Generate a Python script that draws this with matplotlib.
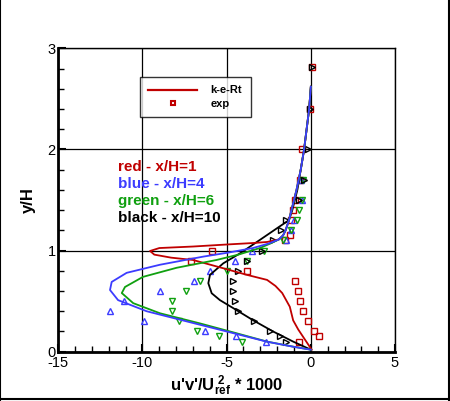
import matplotlib.pyplot as plt
from matplotlib.lines import Line2D

plt.rcParams['font.family'] = ['Liberation Sans', 'DejaVu Sans']
plt.rcParams['mathtext.fontset'] = 'custom'
plt.rcParams['mathtext.rm'] = 'Liberation Sans:bold'
plt.rcParams['mathtext.bf'] = 'Liberation Sans:bold'
plt.rcParams['mathtext.default'] = 'bf'
plt.rcParams['axes.unicode_minus'] = False

RED = '#c00000'
BLUE = '#3c3cff'
GREEN = '#10a010'
BLACK = '#000000'

# shared upper part of the model curves (top -> y/H ~ 1.15)
top_x = [0.0, -0.1, -0.25, -0.4, -0.6, -0.85, -1.0, -1.15, -1.3, -1.5, -1.65]
top_y = [2.62, 2.4, 2.2, 2.0, 1.8, 1.6, 1.5, 1.4, 1.3, 1.2, 1.15]

# k-e-Rt curves, lower parts
red_x = [-1.9, -2.6, -3.4, -5.0, -7.0, -9.0, -9.55, -9.3, -8.3, -7.0, -5.2, -3.8, -2.6, -2.1, -1.7, -1.25, -1.05, -0.75, -0.47, -0.15, 0.05]
red_y = [1.11, 1.085, 1.075, 1.06, 1.04, 1.025, 0.996, 0.96, 0.93, 0.907, 0.825, 0.76, 0.71, 0.65, 0.58, 0.445, 0.31, 0.22, 0.15, 0.07, 0.02]
blue_x = [-1.9, -2.5, -3.44, -4.9, -6.4, -8.96, -10.94, -11.83, -11.93, -11.45, -9.75, -7.38, -5.0, -2.63, -1.07, 0.0]
blue_y = [1.11, 1.07, 1.025, 0.98, 0.94, 0.86, 0.78, 0.69, 0.61, 0.51, 0.40, 0.30, 0.20, 0.10, 0.05, 0.02]
green_x = [-1.9, -2.4, -3.03, -4.3, -5.6, -7.97, -9.97, -11.04, -11.23, -10.55, -8.96, -6.59, -4.8, -2.6, -1.05, 0.0]
green_y = [1.11, 1.07, 1.025, 0.96, 0.907, 0.83, 0.74, 0.64, 0.58, 0.48, 0.38, 0.28, 0.20, 0.10, 0.05, 0.02]
black_x = [-1.3, -1.84, -3.03, -4.2, -5.2, -5.99, -6.09, -5.89, -5.4, -4.6, -3.42, -2.24, -1.05, 0.0]
black_y = [1.3, 1.24, 1.105, 0.973, 0.874, 0.76, 0.677, 0.578, 0.51, 0.43, 0.31, 0.20, 0.10, 0.02]
black_top_x = [0.0, -0.1, -0.25, -0.4, -0.6, -0.8, -0.95, -1.1]
black_top_y = [2.62, 2.4, 2.2, 2.0, 1.8, 1.6, 1.5, 1.4]

# experiments
exp1_x = [0.04, -0.06, -0.5, -0.65, -0.95, -1.05, -1.15, -1.25, -1.55, -5.9, -7.1, -3.77, -0.95, -0.75, -0.65, -0.45, -0.15, 0.18, 0.5, -0.7]
exp1_y = [2.81, 2.40, 2.00, 1.70, 1.50, 1.40, 1.30, 1.15, 1.10, 1.00, 0.90, 0.80, 0.70, 0.60, 0.50, 0.40, 0.30, 0.20, 0.155, 0.10]
exp4_x = [-0.55, -0.6, -1.0, -1.2, -1.5, -3.49, -4.5, -6.0, -6.93, -8.95, -11.1, -11.94, -9.92, -6.28, -4.44, -2.67]
exp4_y = [1.50, 1.70, 1.30, 1.20, 1.10, 1.00, 0.90, 0.80, 0.70, 0.60, 0.50, 0.40, 0.30, 0.20, 0.155, 0.10]
exp6_x = [-0.45, -0.55, -0.7, -0.85, -1.15, -1.68, -2.79, -3.82, -5.0, -6.6, -7.4, -8.26, -8.26, -7.84, -6.75, -5.47, -4.08]
exp6_y = [1.70, 1.50, 1.40, 1.30, 1.20, 1.10, 1.00, 0.90, 0.80, 0.70, 0.60, 0.50, 0.40, 0.30, 0.20, 0.155, 0.10]
exp10_x = [0.04, -0.06, -0.15, -0.4, -0.7, -1.45, -1.75, -2.24, -2.93, -3.82, -4.34, -4.6, -4.6, -4.5, -4.3, -3.4, -2.44, -1.85, -1.5]
exp10_y = [2.81, 2.40, 2.00, 1.70, 1.50, 1.30, 1.20, 1.10, 1.00, 0.90, 0.80, 0.70, 0.60, 0.50, 0.40, 0.30, 0.20, 0.155, 0.10]

fig = plt.figure(figsize=(4.5, 4.01), dpi=100)
ax = fig.add_axes([0.1296, 0.1229, 0.7482, 0.7567])

ax.grid(True, color='black', linewidth=0.9)
ax.set_axisbelow(True)

lw = 1.3
ax.plot(exp1_x, exp1_y, 's', mfc='none', mec=RED, ms=4, mew=1.0, zorder=3)
ax.plot(exp4_x, exp4_y, '^', mfc='none', mec=BLUE, ms=5, mew=1.0, zorder=3)
ax.plot(exp6_x, exp6_y, 'v', mfc='none', mec=GREEN, ms=5, mew=1.0, zorder=3)
ax.plot(exp10_x, exp10_y, '>', mfc='none', mec=BLACK, ms=5, mew=1.0, zorder=3)

ax.plot(black_top_x + black_x, black_top_y + black_y, color=BLACK, lw=lw, zorder=4)
ax.plot(top_x + red_x, top_y + red_y, color=RED, lw=lw, zorder=4)
ax.plot(top_x + green_x, top_y + green_y, color=GREEN, lw=lw, zorder=4)
ax.plot(top_x + blue_x, top_y + blue_y, color=BLUE, lw=lw, zorder=4)

ax.set_xlim(-15, 5)
ax.set_ylim(0, 3)
ax.set_xticks([-15, -10, -5, 0, 5])
ax.set_yticks([0, 1, 2, 3])
ax.set_xticks(range(-15, 6), minor=True)
ax.set_yticks([i * 0.2 for i in range(16)], minor=True)
ax.tick_params(which='both', direction='in', top=False, right=False, labelsize=10.5)
ax.tick_params(which='major', length=6, width=1.5)
ax.tick_params(which='minor', length=4, width=1.0)
ax.tick_params(axis='x', pad=3)
ax.tick_params(axis='y', pad=2)
ax.spines['left'].set_linewidth(2)
ax.spines['bottom'].set_linewidth(2)
ax.spines['top'].set_linewidth(1)
ax.spines['right'].set_linewidth(1)

ax.set_ylabel('y/H', fontsize=12, fontweight='bold', labelpad=8)
ax.set_xlabel("u'v'/U$_{ref}^{\\ 2}$ * 1000", fontsize=12, fontweight='bold', labelpad=3)

labels = ['red - x/H=1', 'blue - x/H=4', 'green - x/H=6', 'black - x/H=10']
label_colors = [RED, BLUE, GREEN, BLACK]
for i, (t, c) in enumerate(zip(labels, label_colors)):
    ax.text(-11.45, 1.83 - i * 0.168, t, color=c, fontsize=11, fontweight='bold', va='center')

handles = [Line2D([], [], color=RED, lw=1.6),
           Line2D([], [], ls='none', marker='s', mfc='none', mec=RED, ms=3.5, mew=1.5)]
leg = ax.legend(handles, ['k-e-Rt', 'exp'], loc='upper left', bbox_to_anchor=(0.2426, 0.905),
                borderaxespad=0, fontsize=8, frameon=True, fancybox=False, edgecolor='black',
                handlelength=4.4, borderpad=0.75, labelspacing=0.3, handletextpad=1.2)
leg.get_frame().set_linewidth(1.0)
for t in leg.get_texts():
    t.set_fontweight('bold')

# figure border (left, bottom, right)
fig.add_artist(Line2D([0.001, 0.001], [0.0, 1.0], color='black', lw=1.5, transform=fig.transFigure))
fig.add_artist(Line2D([0.0, 1.0], [0.004, 0.004], color='black', lw=1.5, transform=fig.transFigure))
fig.add_artist(Line2D([0.998, 0.998], [0.0, 1.0], color='black', lw=1.5, transform=fig.transFigure))

fig.savefig('out.png', dpi=100)
